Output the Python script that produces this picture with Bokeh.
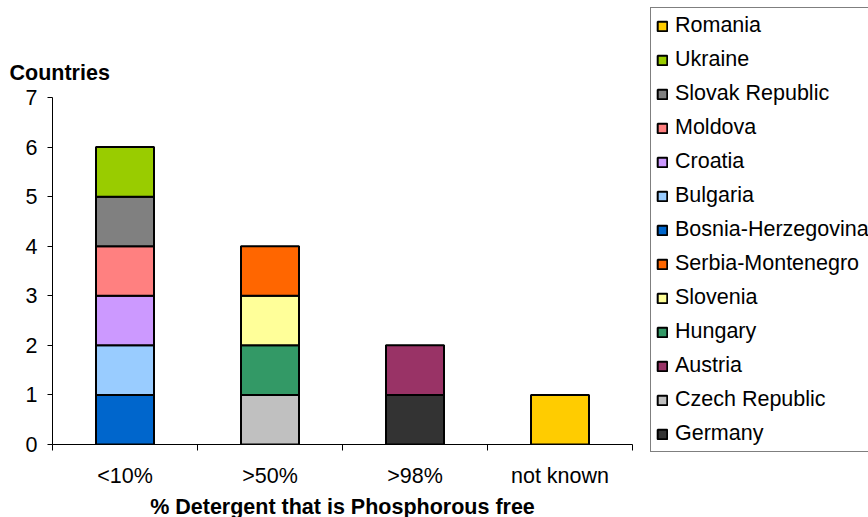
from bokeh.plotting import figure
from bokeh.models import Range1d, FixedTicker, Legend, LegendItem, Title, ColumnDataSource
from bokeh.embed import file_html
from bokeh.resources import INLINE

categories = ["<10%", ">50%", ">98%", "not known"]

# countries in stacking order (bottom to top)
countries = ["Germany", "Czech Republic", "Austria", "Hungary", "Slovenia",
             "Serbia-Montenegro", "Bosnia-Herzegovina", "Bulgaria", "Croatia",
             "Moldova", "Slovak Republic", "Ukraine", "Romania"]
country_category = [">98%", ">50%", ">98%", ">50%", ">50%",
                    ">50%", "<10%", "<10%", "<10%",
                    "<10%", "<10%", "<10%", "not known"]
country_count = [1, 1, 1, 1, 1, 1, 1, 1, 1, 1, 1, 1, 1]
colors = ["#333333", "#C0C0C0", "#993366", "#339966", "#FFFF99",
          "#FF6600", "#0066CC", "#99CCFF", "#CC99FF",
          "#FF8080", "#808080", "#99CC00", "#FFCC00"]

y_ticks = [0, 1, 2, 3, 4, 5, 6, 7]

FONT = "Liberation Sans"
FS = "21.5px"

p = figure(frame_width=580, frame_height=347, min_border_left=52, min_border_right=236,
           min_border_top=97, min_border_bottom=73,
           x_range=Range1d(0, len(categories)), y_range=Range1d(0, 7),
           output_backend="svg", toolbar_location=None)
p.outline_line_color = None
p.xgrid.visible = False
p.ygrid.visible = False

cat_pos = {c: i + 0.5 for i, c in enumerate(categories)}
running = {c: 0 for c in categories}
renderers = {}
for name, cat, cnt, col in zip(countries, country_category, country_count, colors):
    bottom = running[cat]
    top = bottom + cnt
    running[cat] = top
    src = ColumnDataSource(dict(x=[cat_pos[cat]], bottom=[bottom], top=[top]))
    r = p.vbar(x="x", bottom="bottom", top="top", width=0.4, source=src,
               fill_color=col, line_color="black", line_width=2)
    renderers[name] = r

# axes
xa = p.xaxis[0]
xa.ticker = FixedTicker(ticks=[i + 0.5 for i in range(len(categories))],
                        minor_ticks=list(range(len(categories) + 1)))
xa.major_label_overrides = {i + 0.5: c for i, c in enumerate(categories)}
xa.major_tick_line_color = None
xa.minor_tick_line_color = "black"
xa.minor_tick_in = 0
xa.minor_tick_out = 6
xa.axis_line_color = "black"
xa.major_label_text_font = FONT
xa.major_label_text_font_size = FS
xa.major_label_text_color = "black"
xa.major_label_standoff = 13
xa.axis_label = "% Detergent that is Phosphorous free"
xa.axis_label_text_font = FONT
xa.axis_label_text_font_size = FS
xa.axis_label_text_font_style = "bold"
xa.axis_label_text_color = "black"
xa.axis_label_standoff = 4

ya = p.yaxis[0]
ya.ticker = FixedTicker(ticks=y_ticks)
ya.major_tick_in = 0
ya.major_tick_out = 5
ya.minor_tick_line_color = None
ya.axis_line_color = "black"
ya.major_tick_line_color = "black"
ya.major_label_text_font = FONT
ya.major_label_text_font_size = FS
ya.major_label_text_color = "black"
ya.major_label_standoff = 10

p.add_layout(Title(text="Countries", align="left", offset=-43, standoff=26,
                   text_font=FONT, text_font_size=FS, text_font_style="bold",
                   text_color="black"), "above")

items = [LegendItem(label=n, renderers=[renderers[n]]) for n in reversed(countries)]
legend = Legend(items=items, location=(18, -8), orientation="vertical",
                border_line_color="black", border_line_width=1,
                background_fill_color="white", background_fill_alpha=1,
                padding=5, spacing=9, margin=0,
                glyph_width=12, glyph_height=12, label_height=20,
                label_standoff=7,
                label_text_font=FONT, label_text_font_size=FS,
                label_text_color="black", label_text_baseline="middle")
p.add_layout(legend, "right")

open("out.html", "w").write(file_html(p, INLINE))
